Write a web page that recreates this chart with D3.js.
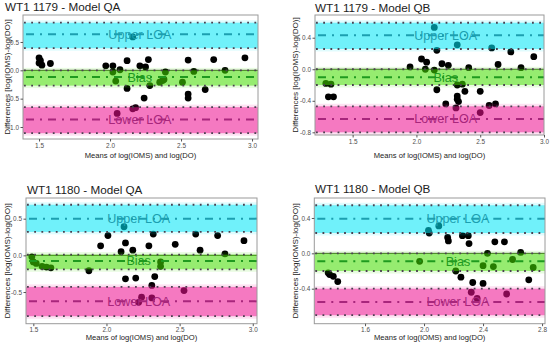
<!DOCTYPE html>
<html>
<head>
<meta charset="utf-8">
<script src="https://cdn.jsdelivr.net/npm/d3@7"></script>
<style>
  body { margin: 0; background: #fff; }
  svg { display: block; font-family: "Liberation Sans", Arial, sans-serif; }
</style>
</head>
<body>
<div id="chart"></div>
<script>
////////////// DATA //////////////

const titles = ["WT1 1179 - Model QA", "WT1 1179 - Model QB", "WT1 1180 - Model QA", "WT1 1180 - Model QB"];

// [mean of logs, difference of logs]
const pts1179QA = [[1.50,0.22],[1.51,0.17],[1.50,0.13],[1.52,0.09],[1.58,0.12],[1.97,0.08],[2.02,0.08],[2.02,-0.03],
  [2.07,0.01],[2.04,-0.19],[2.12,0.17],[2.12,-0.32],[2.16,0.59],[2.21,0.08],[2.25,0.06],[2.27,0.19],[2.24,-0.49],
  [2.18,-0.66],[2.16,-0.68],[2.05,-0.76],[2.28,-0.27],[2.35,-0.21],[2.37,-0.18],[2.38,-0.16],[2.39,-0.03],[2.51,-0.21],
  [2.55,0.18],[2.55,-0.42],[2.55,-0.49],[2.59,-0.02],[2.67,-0.34],[2.73,0.19],[2.81,0.0],[2.95,0.22]];
const pts1179QB = [[1.29,-0.18],[1.33,-0.19],[1.31,-0.35],[1.35,-0.35],[1.95,0.03],[2.04,0.13],[2.08,0.09],[2.07,0.0],
  [2.14,-0.01],[2.16,0.24],[2.16,-0.26],[2.20,0.07],[2.25,0.05],[2.14,0.53],[2.32,0.31],[2.23,-0.44],[2.31,-0.49],
  [2.32,-0.34],[2.32,-0.38],[2.33,-0.41],[2.32,-0.20],[2.36,-0.19],[2.38,-0.28],[2.41,0.02],[2.50,-0.28],[2.50,-0.55],
  [2.57,-0.46],[2.62,-0.44],[2.59,0.27],[2.64,0.06],[2.74,0.22],[2.82,0.02],[2.92,0.16]];
const pts1180QA = [[1.49,-0.02],[1.50,-0.09],[1.52,-0.11],[1.56,-0.15],[1.59,-0.16],[1.62,-0.17],[1.88,-0.21],[1.96,0.13],
  [2.01,0.27],[2.10,0.05],[2.13,0.17],[2.12,0.39],[2.13,-0.32],[2.18,0.07],[2.20,-0.31],[2.29,0.13],[2.32,0.29],
  [2.33,-0.29],[2.31,-0.41],[2.31,-0.58],[2.24,-0.57],[2.22,-0.64],[2.37,-0.09],[2.37,-0.15],[2.47,0.15],[2.53,-0.48],
  [2.61,0.29],[2.64,0.07],[2.76,0.27],[2.81,0.02],[2.94,0.20]];
const pts1180QB = [[1.35,-0.22],[1.36,-0.24],[1.385,-0.26],[1.415,-0.32],[1.97,-0.09],[2.03,0.26],[2.035,0.23],[2.10,0.31],
  [2.16,0.18],[2.165,0.14],[2.26,0.20],[2.30,0.20],[2.305,0.11],[2.215,-0.20],[2.25,-0.27],[2.33,-0.33],[2.40,-0.34],
  [2.32,-0.44],[2.36,-0.51],[2.43,0.0],[2.40,-0.14],[2.47,-0.15],[2.48,0.13],[2.545,0.13],[2.56,-0.46],[2.60,-0.07],
  [2.655,0.01],[2.71,-0.30],[2.74,-0.16]];

// limits of agreement: [value, ci low, ci high]
const upperLOA = [[0.636,0.39,0.84],[0.43,0.257,0.59],[0.50,0.32,0.69],[0.39,0.23,0.544]];
const biasLine = [[-0.12,-0.27,0.0],[-0.10,-0.20,0.0],[-0.078,-0.19,0.01],[-0.09,-0.20,0.0]];
const lowerLOA = [[-0.87,-1.11,-0.65],[-0.63,-0.80,-0.47],[-0.627,-0.83,-0.43],[-0.55,-0.70,-0.40]];
const labelX = [2.21, 2.23, 2.22, 2.23];

const xTicks = [[1.5,2.0,2.5,3.0],[1.5,2.0,2.5,3.0],[1.5,2.0,2.5,3.0],[1.6,2.0,2.4,2.8]];
const yTicks = [[0.5,0.0,-0.5,-1.0],[0.4,0.0,-0.4,-0.8],[0.5,0.0,-0.5],[0.4,0.0,-0.4]];
const xDomains = [[1.387,3.042],[1.205,3.0],[1.45,3.029],[1.256,2.82]];
const yDomains = [[-1.212,0.976],[-0.834,0.688],[-0.932,0.782],[-0.796,0.626]];

const allPoints = [pts1179QA, pts1179QB, pts1180QA, pts1180QB];

////////////// LAYOUT //////////////

// plot area box of each panel: left, right, top, bottom
const boxes = [
  {l: 23, r: 258, t: 15, b: 139},
  {l: 315, r: 544, t: 15, b: 135},
  {l: 26, r: 257, t: 198, b: 323.7},
  {l: 314.3, r: 545, t: 198, b: 323.7}
];
const titlePos = [[5, 10.7], [315, 11.5], [27, 193.5], [315, 192.7]];
const xLabelY = [157.5, 157.5, 340, 340];
const yLabelX = [10, 297.7, 10, 298];

const bands = [
  {rows: upperLOA, fill: "#00e5f5", line: "#1c9fb0", text: "Upper LOA"},
  {rows: biasLine, fill: "#44dd00", line: "#1f9a1f", text: "Bias"},
  {rows: lowerLOA, fill: "#ee1090", line: "#a8267c", text: "Lower LOA"}
];

const svg = d3.select("#chart").append("svg")
  .attr("width", 550)
  .attr("height", 344);

const fmt = d => d.toFixed(1);

allPoints.forEach(function (points, i) {
  const box = boxes[i];
  const x = d3.scaleLinear().domain(xDomains[i]).range([box.l, box.r]);
  const y = d3.scaleLinear().domain(yDomains[i]).range([box.b, box.t]);
  const g = svg.append("g");

  g.append("rect")
    .attr("x", box.l).attr("y", box.t)
    .attr("width", box.r - box.l).attr("height", box.b - box.t)
    .attr("fill", "#fff");

  // zero line
  g.append("line")
    .attr("x1", box.l).attr("x2", box.r)
    .attr("y1", y(0)).attr("y2", y(0))
    .attr("stroke", "#3a3a2a").attr("stroke-width", 1);

  // points
  g.selectAll("circle")
    .data(points)
    .enter()
    .append("circle")
    .attr("cx", d => x(d[0]))
    .attr("cy", d => y(d[1]))
    .attr("r", 3.4)
    .attr("fill", "#000");

  // bands on top so the points are tinted
  bands.forEach(function (band) {
    const row = band.rows[i];
    g.append("rect")
      .attr("x", box.l).attr("width", box.r - box.l)
      .attr("y", y(row[2]) - 2.5).attr("height", y(row[1]) - y(row[2]) + 5)
      .attr("fill", band.fill).attr("opacity", 0.12);
    g.append("rect")
      .attr("x", box.l).attr("width", box.r - box.l)
      .attr("y", y(row[2])).attr("height", y(row[1]) - y(row[2]))
      .attr("fill", band.fill).attr("opacity", 0.5);
  });

  bands.forEach(function (band) {
    const row = band.rows[i];
    [row[1], row[2]].forEach(function (v) {
      g.append("line")
        .attr("x1", box.l + 1).attr("x2", box.r)
        .attr("y1", y(v)).attr("y2", y(v))
        .attr("stroke", "#4a4050").attr("stroke-width", 1.8)
        .attr("stroke-dasharray", "1.8,5.4");
    });
    g.append("line")
      .attr("x1", box.l + 3).attr("x2", box.r)
      .attr("y1", y(row[0])).attr("y2", y(row[0]))
      .attr("stroke", band.line).attr("stroke-width", 2)
      .attr("stroke-dasharray", "8,6,2,6");
    g.append("text")
      .attr("x", x(labelX[i]))
      .attr("y", y(row[0]))
      .attr("dy", "0.35em")
      .attr("text-anchor", "middle")
      .style("font-size", "12.6px")
      .attr("fill", band.line)
      .text(band.text);
  });

  // frame
  g.append("rect")
    .attr("x", box.l).attr("y", box.t)
    .attr("width", box.r - box.l).attr("height", box.b - box.t)
    .attr("fill", "none").attr("stroke", "#9a9a9a").attr("stroke-width", 1);

  // axes
  const xAxis = g.append("g")
    .attr("transform", `translate(0,${box.b})`)
    .call(d3.axisBottom(x).tickValues(xTicks[i]).tickFormat(fmt).tickSize(2.5).tickPadding(1.5));
  const yAxis = g.append("g")
    .attr("transform", `translate(${box.l},0)`)
    .call(d3.axisLeft(y).tickValues(yTicks[i]).tickFormat(fmt).tickSize(2.5).tickPadding(1.5));
  [xAxis, yAxis].forEach(function (ax) {
    ax.select(".domain").remove();
    ax.selectAll("line").attr("stroke", "#555");
    ax.selectAll("text").attr("fill", "#4d4d4d").style("font-size", "6.4px").style("font-family", null);
  });

  // titles
  g.append("text")
    .attr("x", titlePos[i][0]).attr("y", titlePos[i][1])
    .style("font-size", "11.7px")
    .attr("fill", "#222")
    .text(titles[i]);

  g.append("text")
    .attr("x", (box.l + box.r) / 2).attr("y", xLabelY[i])
    .attr("text-anchor", "middle")
    .style("font-size", "7.6px")
    .attr("fill", "#222")
    .text("Means of log(IOMS) and log(DO)");

  g.append("text")
    .attr("transform", `translate(${yLabelX[i]},${(box.t + box.b) / 2}) rotate(-90)`)
    .attr("text-anchor", "middle")
    .style("font-size", "8.1px")
    .attr("fill", "#222")
    .text("Differences [log(IOMS)-log(DO)]");
});
</script>
</body>
</html>
